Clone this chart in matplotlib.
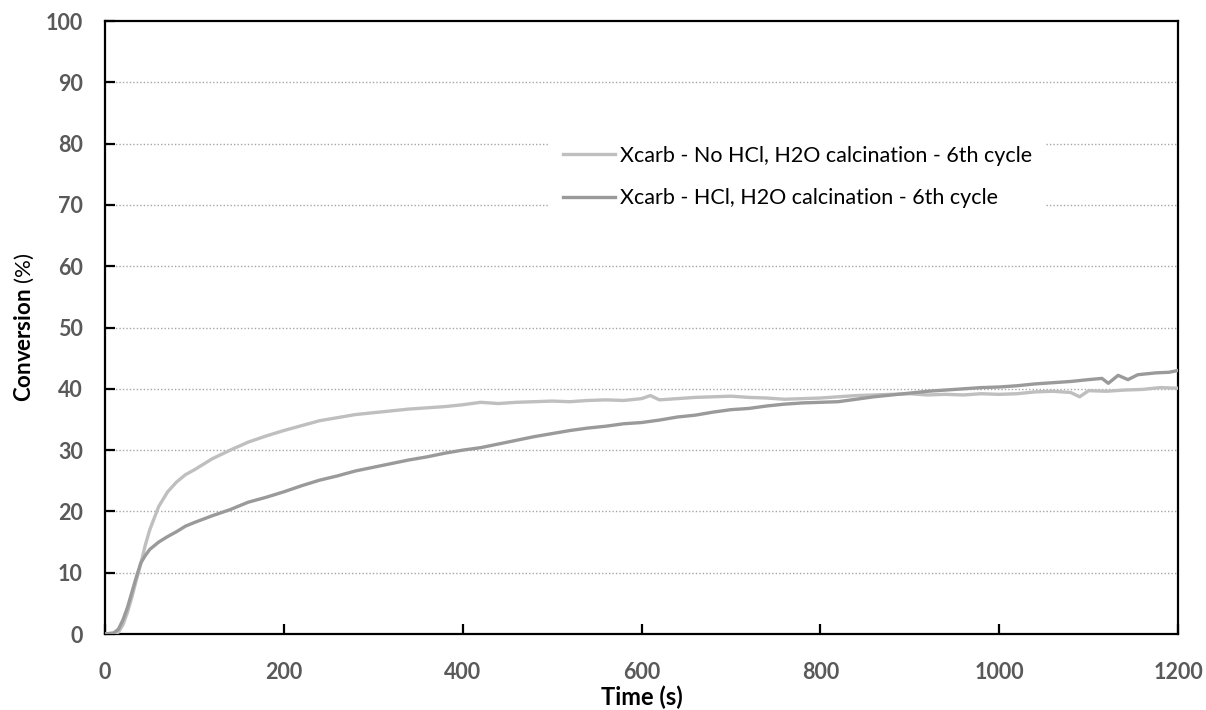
import matplotlib
matplotlib.use("Agg")
import matplotlib.pyplot as plt

# Carbonation conversion, 6th cycle
t_nohcl = [0, 10, 15, 20, 25, 30, 35, 40, 45, 50, 60, 70, 80, 90, 100,
           120, 140, 160, 180, 200, 220, 240, 260, 280, 300, 320, 340, 360,
           380, 400, 420, 440, 460, 480, 500, 520, 540, 560, 580, 600, 610,
           620, 640, 660, 680, 700, 720, 740, 760, 780, 800, 820, 840, 860,
           880, 900, 920, 940, 960, 980, 1000, 1020, 1040, 1060, 1080, 1090,
           1100, 1120, 1140, 1160, 1180, 1200]
x_nohcl = [0.0, 0.0, 0.3, 1.5, 3.5, 6.0, 8.8, 11.5, 14.5, 17.0, 20.8, 23.2,
           24.8, 26.0, 26.8, 28.6, 30.0, 31.3, 32.3, 33.2, 34.0, 34.8, 35.3,
           35.8, 36.1, 36.4, 36.7, 36.9, 37.1, 37.4, 37.8, 37.6, 37.8, 37.9,
           38.0, 37.9, 38.1, 38.2, 38.1, 38.4, 38.9, 38.2, 38.4, 38.6, 38.7,
           38.8, 38.6, 38.5, 38.3, 38.4, 38.5, 38.7, 38.9, 39.0, 39.1, 39.2,
           39.0, 39.1, 39.0, 39.2, 39.1, 39.2, 39.5, 39.6, 39.4, 38.7, 39.7,
           39.6, 39.8, 39.9, 40.2, 40.1]

t_hcl = [0, 10, 15, 20, 25, 30, 35, 40, 45, 50, 60, 70, 80, 90, 100, 120,
         140, 160, 180, 200, 220, 240, 260, 280, 300, 320, 340, 360, 380,
         400, 420, 440, 460, 480, 500, 520, 540, 560, 580, 600, 620, 640,
         660, 680, 700, 720, 740, 760, 780, 800, 820, 840, 860, 880, 900,
         920, 940, 960, 980, 1000, 1020, 1040, 1060, 1080, 1100, 1115, 1122,
         1133, 1144, 1155, 1175, 1190, 1200]
x_hcl = [0.0, 0.2, 0.8, 2.3, 4.3, 6.8, 9.3, 11.6, 12.8, 13.8, 15.0, 15.9,
         16.7, 17.6, 18.2, 19.3, 20.3, 21.5, 22.3, 23.2, 24.2, 25.1, 25.8,
         26.6, 27.2, 27.8, 28.4, 28.9, 29.5, 30.0, 30.4, 31.0, 31.6, 32.2,
         32.7, 33.2, 33.6, 33.9, 34.3, 34.5, 34.9, 35.4, 35.7, 36.2, 36.6,
         36.8, 37.2, 37.5, 37.7, 37.8, 37.9, 38.3, 38.7, 39.0, 39.3, 39.6,
         39.8, 40.0, 40.2, 40.3, 40.5, 40.8, 41.0, 41.2, 41.5, 41.7, 40.9,
         42.2, 41.5, 42.3, 42.6, 42.7, 43.0]

label_nohcl = "Xcarb - No HCl, H2O calcination - 6th cycle"
label_hcl = "Xcarb - HCl, H2O calcination - 6th cycle"

x_ticks = [0, 200, 400, 600, 800, 1000, 1200]
y_ticks = [0, 10, 20, 30, 40, 50, 60, 70, 80, 90, 100]

plt.rcParams["font.family"] = ["Lato", "DejaVu Sans"]
plt.rcParams["mathtext.fontset"] = "custom"
plt.rcParams["mathtext.bf"] = "Lato:bold"
plt.rcParams["mathtext.rm"] = "Lato"

fig = plt.figure(figsize=(12.06, 7.10), dpi=100)
ax = fig.add_axes([0.0871, 0.1070, 0.8897, 0.8634])

ax.plot(t_nohcl, x_nohcl, color="#BFBFBF", lw=2.4, label=label_nohcl,
        solid_joinstyle="round", zorder=3)
ax.plot(t_hcl, x_hcl, color="#9A9A9A", lw=2.4, label=label_hcl,
        solid_joinstyle="round", zorder=3)

ax.set_xlim(0, 1200)
ax.set_ylim(0, 100)
ax.set_xticks(x_ticks)
ax.set_yticks(y_ticks)

for y in y_ticks[1:-1]:
    ax.axhline(y, color="#A6A6A6", lw=1.0, ls=(0, (1, 1.5)), zorder=1)

for s in ax.spines.values():
    s.set_linewidth(1.6)
    s.set_color("black")

ax.tick_params(axis="both", direction="in", length=7, width=1.6,
               labelsize=15.5, labelcolor="#595959")
ax.tick_params(axis="x", pad=20)
ax.tick_params(axis="y", pad=16)
for lbl in ax.get_xticklabels() + ax.get_yticklabels():
    lbl.set_fontweight("bold")

ax.set_xlabel("Time (s)", fontsize=17, fontweight="bold", labelpad=2)
ax.set_ylabel(r"$\mathbf{Conversion}$ (%)", fontsize=16, labelpad=7)

leg = ax.legend(loc="upper left", bbox_to_anchor=(0.405, 0.835),
                fontsize=15.5, frameon=True, facecolor="white",
                edgecolor="none", framealpha=1.0, handlelength=2.4,
                handletextpad=0.22, labelspacing=1.05, borderpad=0.6,
                fancybox=False)
leg.set_zorder(5)

fig.savefig("out.png", dpi=100, facecolor="white")
